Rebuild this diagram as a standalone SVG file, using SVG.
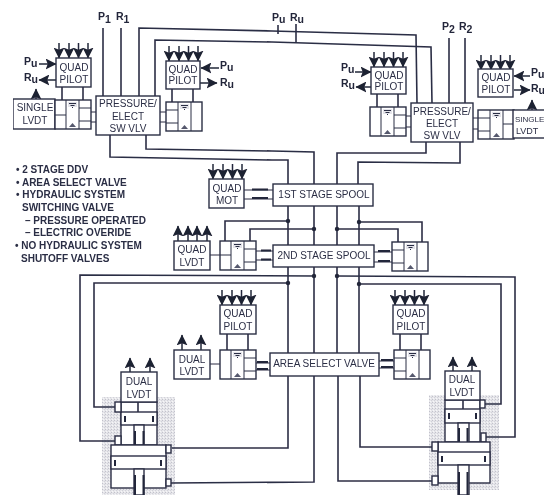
<svg xmlns="http://www.w3.org/2000/svg" width="544" height="495" viewBox="0 0 544 495">
<style>
.l{fill:none;stroke:#2b2e45;stroke-width:1.6}
.t{fill:none;stroke:#2b2e45;stroke-width:1}
.k{fill:none;stroke:#23263a;stroke-width:2}
.b{fill:#fff;stroke:#2b2e45;stroke-width:1.4}
.a{fill:none;stroke:#23263a;stroke-width:1.5;marker-end:url(#h)}
.d{fill:#23263a}
text{font-family:"Liberation Sans",Arial,sans-serif;font-size:10px;fill:#2b2e45}
.m{text-anchor:middle}
.s{font-weight:bold;font-size:10px}
.n{font-weight:bold;font-size:10.5px;fill:#23263a}
</style>
<defs>
<marker id="h" markerUnits="userSpaceOnUse" markerWidth="11" markerHeight="11" viewBox="0 0 10 10" refX="9.500" refY="5" orient="auto"><path d="M0 0L10 5L0 10L2 5z" fill="#1e2133"/></marker>
<pattern id="g" width="3" height="3" patternUnits="userSpaceOnUse"><rect width="3" height="3" fill="#e6e6ea"/><rect width="1" height="1" fill="#c2c2cc"/><rect x="2" y="1" width="1" height="1" fill="#d2d2da"/><rect x="1" y="2" width="1" height="1" fill="#f6f6f8"/></pattern>
<filter id="f" x="0" y="0" width="100%" height="100%"><feGaussianBlur stdDeviation="0.35"/></filter>
<g id="v">
<rect class="b" x="0" y="0" width="36" height="29"/>
<path class="t" d="M11 0V29M24 0V29"/>
<path class="t" d="M24 8H36M24 21H36"/>
<path d="M13 2H22V7H13z" fill="#e4e4ea"/>
<path class="t" d="M14 3.500H21M15.500 5.500H19.500M17 7.500H18"/>
<path d="M14 27L17.500 23L21 27z" fill="#55586d"/>
</g>
<g id="q"><path class="a" d="M3 0V15"/><path class="a" d="M13 0V15"/><path class="a" d="M22.500 0V15"/><path class="a" d="M32 0V15"/></g>
<g id="u"><path class="a" d="M4 15V0"/><path class="a" d="M14 15V0"/><path class="a" d="M23 15V0"/><path class="a" d="M33 15V0"/></g>
</defs>
<rect width="544" height="495" fill="#fff"/>
<g filter="url(#f)">
<g id="shading">
<rect x="102" y="397" width="73" height="98" fill="url(#g)"/>
<rect x="429" y="395" width="70" height="95" fill="url(#g)"/>
</g>
<g id="connectors">
<path class="l" d="M103 28V96M121 28V96M449 38V103M465 38V103"/>
<path class="l" d="M139 96V28L272 31L416 35L417 103"/>
<path class="l" d="M155 96V40L272 42L431 47L432 103"/>
<path class="l" d="M278 25V34M296 24V43"/>
<path class="l" d="M146 135V149L272 151L314 152V184"/>
<path class="l" d="M110 135V157L272 160L288 160V184"/>
<path class="l" d="M426 142V153H337V184"/>
<path class="l" d="M460 142V163L358 162V184"/>
<path class="l" d="M288 206V245M314 206V245M337 206V245M359 206V245"/>
<path class="l" d="M288 267V353M314 267V353M337 267V353M359 267V353"/>
<path class="l" d="M288 376V448H172M314 376V482L171 483M338 376V481H432M360 376V447H432"/>
<path class="l" d="M225 241V221H288M250 241V229H314M337 229H398V242M359 222H422V242"/>
<path class="l" d="M314 276L80 275V441H115M288 283H94V407H115"/>
<path class="l" d="M337 276L515 277V437H486M359 284H501V404H485"/>
<circle class="d" cx="288" cy="221" r="2.200"/><circle class="d" cx="314" cy="229" r="2.200"/><circle class="d" cx="337" cy="229" r="2.200"/><circle class="d" cx="359" cy="222" r="2.200"/>
<circle class="d" cx="314" cy="276" r="2.200"/><circle class="d" cx="288" cy="283" r="2.200"/><circle class="d" cx="337" cy="276" r="2.200"/><circle class="d" cx="359" cy="284" r="2.200"/>
<path class="t" d="M244 190H273M244 199H273"/><path class="k" d="M252 189.500H268M252 198H268"/>
<path class="t" d="M256 251H273M256 260H273"/><path class="k" d="M261 250.500H271M261 259.500H271"/>
<path class="t" d="M374 252H392M374 262H392"/><path class="k" d="M378 251H390M378 261H390"/>
<path class="t" d="M256 363H270M256 370H270"/><path class="k" d="M257 362H268M257 369H268"/>
<path class="t" d="M379 361H394M379 368H394"/><path class="k" d="M381 360H393M381 367H393"/>
<path class="t" d="M90 112H96M90 122H96M160 112H166M160 122H166M405 116H411M405 127H411M473 118H479M473 129H479"/>
<path class="l" d="M62 87V100M83 87V100M172 89V102M193 89V102M377 94V107M398 94V107M227 334V350M248 334V350M400 334V350M421 334V350"/>
<path class="t" d="M210 255H220M210 364H231"/>
<path class="a" d="M39 64H56"/><path class="a" d="M56 80H39"/>
<path class="a" d="M219 68H201"/><path class="a" d="M200 83H217"/>
<path class="a" d="M355 72H371"/><path class="a" d="M371 87H356"/>
<path class="a" d="M530 76H514"/><path class="a" d="M514 90H530"/>
<path class="a" d="M36 99V89"/><path class="a" d="M532 110V100"/>
</g>

<g id="quad-pilot-a"><use href="#q" x="56" y="43"/><rect class="b" x="56" y="58" width="35" height="29"/><text class="m" x="74" y="71">QUAD</text><text class="m" x="74" y="83">PILOT</text>
<text class="n" x="24" y="65">P<tspan dy="2">u</tspan></text><text class="n" x="24" y="81">R<tspan dy="2">u</tspan></text></g>
<g id="single-lvdt-a"><rect class="b" x="13" y="99" width="42" height="30"/><text class="m" x="35" y="111">SINGLE</text><text class="m" x="35" y="124">LVDT</text></g>
<g id="valve-a"><use href="#v" x="55" y="100"/><path class="t" d="M55 115H66"/></g>
<g id="pressure-1"><rect class="b" x="96" y="96" width="64" height="39"/><text class="m" x="128" y="107">PRESSURE/</text><text class="m" x="128" y="120">ELECT</text><text class="m" x="128" y="132">SW VLV</text>
<text class="n" x="98" y="20">P<tspan dy="3">1</tspan></text><text class="n" x="116" y="20">R<tspan dy="3">1</tspan></text></g>
<g id="quad-pilot-b"><use href="#q" x="166" y="46"/><rect class="b" x="166" y="61" width="34" height="28"/><text class="m" x="183" y="73">QUAD</text><text class="m" x="183" y="84">PILOT</text>
<text class="n" x="220" y="69">P<tspan dy="2">u</tspan></text><text class="n" x="220" y="86">R<tspan dy="2">u</tspan></text></g>
<g id="valve-b"><use href="#v" transform="translate(202 102) scale(-1 1)"/></g>

<g id="supply"><text class="n" x="272" y="21">P<tspan dy="2">u</tspan></text><text class="n" x="290" y="21">R<tspan dy="2">u</tspan></text></g>

<g id="quad-pilot-c"><use href="#q" x="371" y="52"/><rect class="b" x="371" y="67" width="35" height="27"/><text class="m" x="389" y="79">QUAD</text><text class="m" x="389" y="90">PILOT</text>
<text class="n" x="341" y="71">P<tspan dy="2">u</tspan></text><text class="n" x="341" y="87">R<tspan dy="2">u</tspan></text></g>
<g id="valve-c"><use href="#v" x="370" y="107"/></g>
<g id="pressure-2"><rect class="b" x="411" y="103" width="62" height="39"/><text class="m" x="442" y="115">PRESSURE/</text><text class="m" x="442" y="127">ELECT</text><text class="m" x="442" y="139">SW VLV</text>
<text class="n" x="442" y="30">P<tspan dy="3">2</tspan></text><text class="n" x="459" y="30">R<tspan dy="3">2</tspan></text></g>
<g id="quad-pilot-d"><use href="#q" x="478" y="55"/><rect class="b" x="478" y="69" width="35" height="28"/><text class="m" x="496" y="81">QUAD</text><text class="m" x="496" y="93">PILOT</text>
<text class="n" x="531" y="76">P<tspan dy="2">u</tspan></text><text class="n" x="531" y="92">R<tspan dy="2">u</tspan></text></g>
<g id="valve-d"><use href="#v" transform="translate(514 110) scale(-1 1)"/><path class="t" d="M503 124H514"/></g>
<g id="single-lvdt-b"><rect class="b" x="513" y="110" width="40" height="28"/><text x="515" y="122" style="font-size:8px">SINGLE</text><text x="516" y="134" style="font-size:9px">LVDT</text></g>

<g id="notes">
<text class="s" x="16" y="173">• 2 STAGE DDV</text>
<text class="s" x="16" y="186">• AREA SELECT VALVE</text>
<text class="s" x="16" y="198">• HYDRAULIC SYSTEM</text>
<text class="s" x="22" y="211">SWITCHING VALVE</text>
<text class="s" x="25" y="224">– PRESSURE OPERATED</text>
<text class="s" x="25" y="236">– ELECTRIC OVERIDE</text>
<text class="s" x="15" y="249">• NO HYDRAULIC SYSTEM</text>
<text class="s" x="21" y="262">SHUTOFF VALVES</text>
</g>

<g id="quad-mot"><use href="#q" x="210" y="164"/><rect class="b" x="209" y="179" width="35" height="29"/><text class="m" x="227" y="192">QUAD</text><text class="m" x="227" y="204">MOT</text></g>
<g id="spool-1"><rect class="b" x="273" y="184" width="100" height="22"/><text class="m" x="324" y="198">1ST STAGE SPOOL</text></g>
<g id="quad-lvdt"><use href="#u" x="174" y="226"/><rect class="b" x="174" y="241" width="36" height="29"/><text class="m" x="192" y="253">QUAD</text><text class="m" x="192" y="266">LVDT</text></g>
<g id="valve-e"><use href="#v" x="220" y="241"/><path class="t" d="M220 255H231"/></g>
<g id="spool-2"><rect class="b" x="273" y="245" width="101" height="22"/><text class="m" x="324" y="259">2ND STAGE SPOOL</text></g>
<g id="valve-f"><use href="#v" transform="translate(428 242) scale(-1 1)"/></g>

<g id="quad-pilot-e"><use href="#q" x="219" y="290"/><rect class="b" x="220" y="305" width="36" height="29"/><text class="m" x="238" y="317">QUAD</text><text class="m" x="238" y="330">PILOT</text></g>
<g id="dual-lvdt-c"><path class="a" d="M182 350V335"/><path class="a" d="M201 350V335"/><rect class="b" x="174" y="350" width="36" height="29"/><text class="m" x="192" y="363">DUAL</text><text class="m" x="192" y="375">LVDT</text></g>
<g id="valve-g"><use href="#v" x="220" y="350"/></g>
<g id="area-valve"><rect class="b" x="270" y="353" width="109" height="23"/><text class="m" x="324" y="367">AREA SELECT VALVE</text></g>
<g id="quad-pilot-f"><use href="#q" x="392" y="290"/><rect class="b" x="393" y="305" width="35" height="29"/><text class="m" x="411" y="317">QUAD</text><text class="m" x="411" y="330">PILOT</text></g>
<g id="valve-h"><use href="#v" transform="translate(430 350) scale(-1 1)"/></g>

<g id="actuator-left">
<rect class="b" x="121" y="402" width="36" height="43"/>
<path class="l" d="M138 402V412"/>
<rect class="b" x="121" y="412" width="36" height="13"/>
<path class="d" d="M124 416h2v6h-2zM152 416h2v6h-2z"/>
<rect class="b" x="134" y="425" width="10" height="20"/><path class="k" d="M135 431V445M143.500 431V445"/>
<rect class="b" x="115" y="402" width="6" height="10"/><rect class="b" x="115" y="436" width="6" height="9"/>
<rect class="b" x="111" y="445" width="55" height="43"/>
<rect class="b" x="111" y="456" width="55" height="13"/>
<path class="d" d="M114 460h2v6h-2zM160 460h2v6h-2z"/>
<rect class="b" x="134" y="469" width="10" height="26"/><path class="k" d="M135 475V495M143.500 475V495"/>
<rect class="b" x="166" y="445" width="5" height="8"/><rect class="b" x="166" y="479" width="5" height="7"/>
<path class="a" d="M130 372V358"/><path class="a" d="M150 372V358"/><rect class="b" x="121" y="372" width="36" height="30"/><text class="m" x="139" y="385">DUAL</text><text class="m" x="139" y="398">LVDT</text>
</g>
<g id="actuator-right">
<rect class="b" x="445" y="400" width="35" height="42"/>
<path class="l" d="M463 400V409"/>
<rect class="b" x="445" y="409" width="35" height="14"/>
<path class="d" d="M448 413h2v6h-2zM475 413h2v6h-2z"/>
<rect class="b" x="458" y="423" width="11" height="28"/><path class="k" d="M459 428V442M467.500 428V442"/>
<rect class="b" x="480" y="400" width="5" height="8"/><rect class="b" x="481" y="433" width="5" height="9"/>
<rect class="b" x="438" y="442" width="52" height="41"/>
<rect class="b" x="438" y="452" width="52" height="13"/>
<path class="d" d="M441 456h2v6h-2zM484 456h2v6h-2z"/>
<rect class="b" x="458" y="465" width="11" height="30"/><path class="k" d="M459 472V495M467.500 472V495"/>
<rect class="b" x="432" y="442" width="6" height="9"/><rect class="b" x="432" y="476" width="6" height="9"/>
<path class="a" d="M453 371V357"/><path class="a" d="M472 371V357"/><rect class="b" x="445" y="371" width="35" height="29"/><text class="m" x="462" y="383">DUAL</text><text class="m" x="462" y="396">LVDT</text>
</g>
</g>
</svg>
